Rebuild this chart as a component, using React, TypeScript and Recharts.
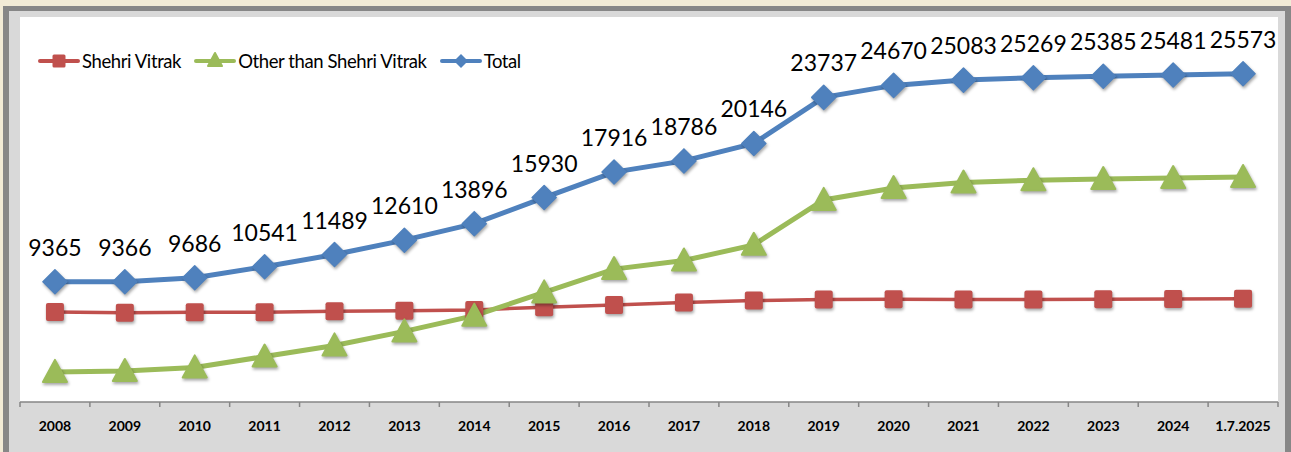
import { LineChart, Line, XAxis, YAxis, LabelList } from 'recharts';

const years = ['2008', '2009', '2010', '2011', '2012', '2013', '2014', '2015', '2016', '2017', '2018', '2019', '2020', '2021', '2022', '2023', '2024', '1.7.2025'];
const shehriVitrak = [7020, 6950, 6990, 7000, 7080, 7110, 7170, 7390, 7560, 7760, 7900, 7990, 8000, 7980, 7990, 8010, 8030, 8040];
const otherThanShehri = [2345, 2416, 2696, 3541, 4409, 5500, 6726, 8540, 10356, 11026, 12246, 15747, 16670, 17103, 17279, 17375, 17451, 17533];
const totalValues = [9365, 9366, 9686, 10541, 11489, 12610, 13896, 15930, 17916, 18786, 20146, 23737, 24670, 25083, 25269, 25385, 25481, 25573];

const data = years.map((year, i) => ({
  year,
  shehri: shehriVitrak[i],
  other: otherThanShehri[i],
  total: totalValues[i],
}));

const RED = '#c0504d';
const GREEN = '#9bbb59';
const BLUE = '#4f81bd';
const FONT = 'Lato, "Open Sans", sans-serif';

// plot area bounds (Excel-like frame)
const PLOT_LEFT = 20;
const PLOT_RIGHT = 1278;
const PLOT_TOP = 17;
const AXIS_Y = 402;
const BAND = (PLOT_RIGHT - PLOT_LEFT) / years.length;

const shadow = 'drop-shadow(1.5px 2px 1.5px rgba(0,0,0,0.35))';

const SquareDot = (props: any) => {
  const { cx, cy, index } = props;
  if (cx == null || cy == null) return null;
  return <rect key={`sq-${index}`} x={cx - 9} y={cy - 9} width={18} height={18} rx={2} fill={RED} style={{ filter: shadow }} />;
};

const TriangleDot = (props: any) => {
  const { cx, cy, index } = props;
  if (cx == null || cy == null) return null;
  const p = `${cx},${cy - 12} ${cx + 12},${cy + 10} ${cx - 12},${cy + 10}`;
  return <polygon key={`tr-${index}`} points={p} fill={GREEN} stroke={GREEN} strokeWidth={2} strokeLinejoin="round" style={{ filter: shadow }} />;
};

const DiamondDot = (props: any) => {
  const { cx, cy, index } = props;
  if (cx == null || cy == null) return null;
  const p = `${cx},${cy - 12} ${cx + 12},${cy} ${cx},${cy + 12} ${cx - 12},${cy}`;
  return <polygon key={`dm-${index}`} points={p} fill={BLUE} stroke={BLUE} strokeWidth={1.5} strokeLinejoin="round" style={{ filter: shadow }} />;
};

const TotalLabel = (props: any) => {
  const { x, y, value } = props;
  return (
    <text x={x} y={y - 26} textAnchor="middle" fontSize={23} fontFamily={FONT} fill="#000">
      {value}
    </text>
  );
};

const YearTick = (props: any) => {
  const { x, payload, index } = props;
  const last = index === years.length - 1;
  return (
    <g>
      <line x1={x - BAND / 2} y1={AXIS_Y} x2={x - BAND / 2} y2={AXIS_Y + 5} stroke="#868686" strokeWidth={1.5} />
      {last && <line x1={x + BAND / 2} y1={AXIS_Y} x2={x + BAND / 2} y2={AXIS_Y + 5} stroke="#868686" strokeWidth={1.5} />}
      <text x={x} y={AXIS_Y + 29} textAnchor="middle" fontSize={14} fontWeight={700} fontFamily={FONT} fill="#000">
        {payload.value}
      </text>
    </g>
  );
};

const legendItems = [
  { label: 'Shehri Vitrak', color: RED, shape: 'square' },
  { label: 'Other than Shehri Vitrak', color: GREEN, shape: 'triangle' },
  { label: 'Total', color: BLUE, shape: 'diamond' },
];

const LegendIcon = ({ color, shape }: { color: string; shape: string }) => (
  <svg width={42} height={22} style={{ display: 'block' }}>
    <line x1={2} y1={11} x2={40} y2={11} stroke={color} strokeWidth={4} strokeLinecap="round" />
    {shape === 'square' && <rect x={14.5} y={4.5} width={13} height={13} rx={1.5} fill={color} />}
    {shape === 'triangle' && <polygon points="21,3 28,16 14,16" fill={color} stroke={color} strokeWidth={2} strokeLinejoin="round" />}
    {shape === 'diamond' && <polygon points="21,4 28,11 21,18 14,11" fill={color} />}
  </svg>
);

const ChartLegend = () => (
  <div style={{ position: 'absolute', left: 38, top: 50, display: 'flex', alignItems: 'center', fontFamily: FONT, fontSize: 18.5, letterSpacing: -0.4, color: '#000' }}>
    {legendItems.map((item) => (
      <div key={item.label} style={{ display: 'flex', alignItems: 'center', marginRight: 13 }}>
        <LegendIcon color={item.color} shape={item.shape} />
        <span style={{ marginLeft: 2 }}>{item.label}</span>
      </div>
    ))}
  </div>
);

const App = () => {
  return (
    <div style={{ position: 'fixed', left: 0, top: 0, width: 1291, height: 452, background: '#f2ebd6', overflow: 'hidden' }}>
      {/* outer dark frame + grey chart area */}
      <div style={{ position: 'absolute', left: 3, top: 6, width: 1288, height: 460, background: '#878787' }} />
      <div style={{ position: 'absolute', left: 9, top: 11, width: 1276, height: 460, background: '#d9d9d9' }} />
      <div style={{ position: 'absolute', left: PLOT_LEFT, top: PLOT_TOP, width: PLOT_RIGHT - PLOT_LEFT, height: AXIS_Y - PLOT_TOP, background: '#ffffff' }} />
      <div style={{ position: 'absolute', left: 0, top: 0 }}>
        <LineChart width={1291} height={452} data={data} margin={{ top: PLOT_TOP, right: 1291 - PLOT_RIGHT, left: PLOT_LEFT, bottom: 0 }}>
          <XAxis
            dataKey="year"
            height={452 - AXIS_Y}
            padding={{ left: BAND / 2, right: BAND / 2 }}
            axisLine={{ stroke: '#868686', strokeWidth: 1.5 }}
            tickLine={false}
            tick={<YearTick />}
            interval={0}
          />
          <YAxis width={0} domain={[0, 30000]} tick={false} tickLine={false} axisLine={{ stroke: '#868686', strokeWidth: 1.5 }} />
          <Line type="linear" dataKey="shehri" name="Shehri Vitrak" stroke={RED} strokeWidth={3.5} dot={<SquareDot />} activeDot={false} isAnimationActive={false} />
          <Line type="linear" dataKey="other" name="Other than Shehri Vitrak" stroke={GREEN} strokeWidth={5} dot={<TriangleDot />} activeDot={false} isAnimationActive={false} />
          <Line type="linear" dataKey="total" name="Total" stroke={BLUE} strokeWidth={5} dot={<DiamondDot />} activeDot={false} isAnimationActive={false}>
            <LabelList dataKey="total" content={<TotalLabel />} />
          </Line>
        </LineChart>
      </div>
      <ChartLegend />
    </div>
  );
};

export default App;
